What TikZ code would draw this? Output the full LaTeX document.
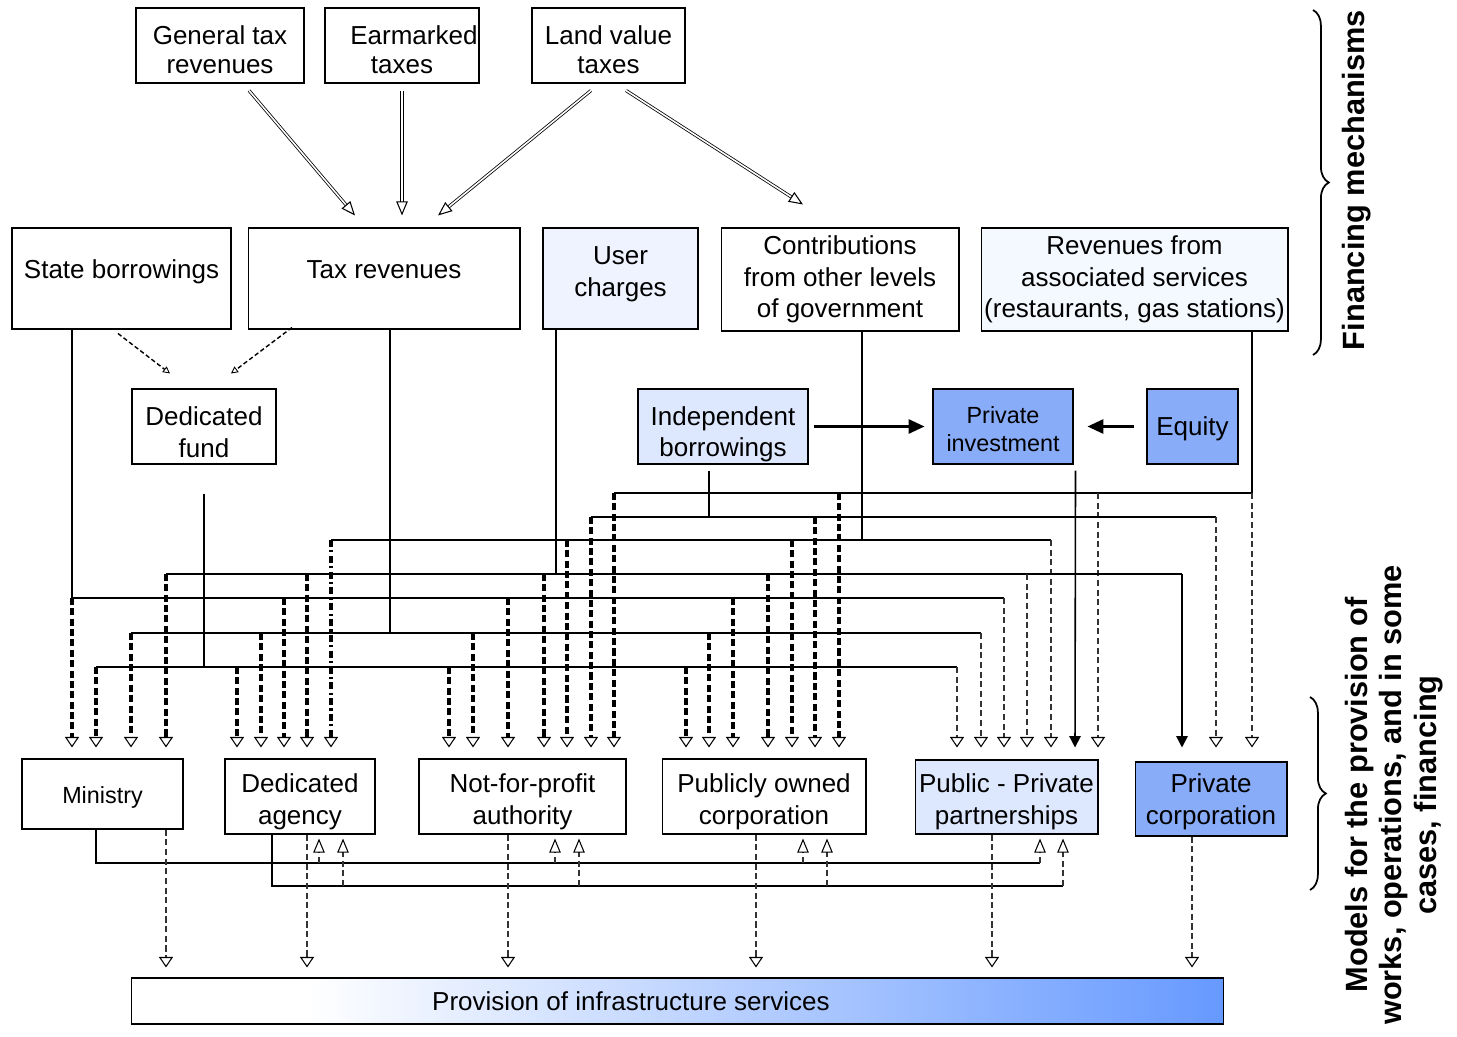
\documentclass[tikz,border=0pt]{standalone}
\usepackage{fontspec}
\setmainfont{Liberation Sans}
\usetikzlibrary{positioning,arrows.meta,decorations.pathreplacing}
\definecolor{usrfill}{RGB}{238,243,255}
\definecolor{revfill}{RGB}{244,248,255}
\definecolor{ibfill}{RGB}{221,232,255}
\definecolor{pifill}{RGB}{136,172,248}
\definecolor{provblue}{RGB}{102,153,255}
\pgfdeclarehorizontalshading{provshade}{100bp}{color(0bp)=(white); color(33bp)=(white); color(75bp)=(provblue); color(100bp)=(provblue)}
% strut that pushes a box text down / up
\newcommand{\dn}[1]{\rule{0pt}{#1}}
\newcommand{\upd}[1]{\rule[-#1]{0pt}{0pt}}
\tikzset{
  box/.style={draw,line width=0.6pt,align=center,inner sep=0pt,font=\fontsize{14.8}{18}\selectfont},
  topbox/.style={box,font=\fontsize{14.8}{16.5}\selectfont},
  smallbox/.style={box,font=\fontsize{13.3}{16}\selectfont},
  feed/.style={line width=0.6pt},
  fat/.style={line width=2pt,dash pattern=on 4pt off 1.9pt,
    -{Triangle[open,length=6pt,width=8pt,line width=0.6pt]}},
  fatdot/.style={fat,dash pattern=on 4pt off 1.9pt on 1.2pt off 1.9pt},
  slim/.style={draw=black!80,line width=0.8pt,dash pattern=on 3.5pt off 2pt,
    -{Triangle[open,length=6pt,width=8pt,line width=0.6pt,color=black]}},
  upslim/.style={slim,-{Triangle[open,length=8pt,width=6.5pt,line width=0.6pt,color=black]}},
  dbl/.style={double,double distance=0.9pt,line width=0.45pt,
    -{Triangle[open,length=8pt,width=6.5pt,line width=0.6pt]}},
  fundarr/.style={line width=0.8pt,dash pattern=on 2.5pt off 1.5pt,
    -{Triangle[open,length=4pt,width=4pt,line width=0.5pt]}},
  push/.style={line width=1.4pt,-{Triangle[length=9pt,width=8pt]}},
  pdrop/.style={line width=0.9pt,-{Triangle[length=6.5pt,width=6.5pt]}},
  brc/.style={decorate,decoration={brace,amplitude=9pt},line width=1pt},
  sidelbl/.style={font=\fontsize{17.5}{19.5}\selectfont\bfseries,rotate=90,align=center},
}
\begin{document}
\begin{tikzpicture}[x=0.02cm,y=-0.02cm]
  \useasboundingbox (0,0) rectangle (1457,1037);
  % ---- financing mechanisms ----
  \node[topbox,minimum width=3.36cm,minimum height=1.5cm] (gen) at (220,45.5) {\dn{15.3pt}General tax\\revenues};
  \node[topbox,minimum width=3.08cm,minimum height=1.5cm] (ear) at (402,45.5) {\dn{15.3pt}\hspace*{13.6pt}Earmarked\\taxes};
  \node[topbox,minimum width=3.06cm,minimum height=1.5cm] (land) at (608.5,45.5) {\dn{15.3pt}Land value\\taxes};
  \node[box,minimum width=4.38cm,minimum height=2.02cm,text height=11pt,text depth=11pt] (sb) at (121.5,278.5) {State borrowings};
  \node[box,minimum width=5.44cm,minimum height=2.02cm,text height=11pt,text depth=11pt] (tax) at (384,278.5) {Tax revenues};
  \node[box,fill=usrfill,minimum width=3.1cm,minimum height=2.02cm] (uc) at (620.5,278.5) {User\\charges\upd{7.7pt}};
  \node[box,minimum width=4.76cm,minimum height=2.06cm] (contr) at (840,279.5) {Contributions\\from other levels\\of government};
  \node[box,fill=revfill,minimum width=6.14cm,minimum height=2.06cm] (rev) at (1134.5,279.5) {Revenues from\\associated services\\(restaurants, gas stations)};
  \node[box,minimum width=2.88cm,minimum height=1.5cm] (fund) at (204,426.5) {\dn{17.5pt}Dedicated\\fund};
  \node[box,fill=ibfill,minimum width=3.4cm,minimum height=1.5cm] (ib) at (723,426.5) {\dn{19.7pt}Independent\\borrowings};
  \node[smallbox,fill=pifill,minimum width=2.8cm,minimum height=1.5cm] (pi) at (1003,426.5) {\dn{13pt}Private\\investment};
  \node[box,fill=pifill,minimum width=1.82cm,minimum height=1.5cm] (eq) at (1192.5,426.5) {\dn{13pt}Equity};
  % ---- provision models ----
  \node[smallbox,minimum width=3.22cm,minimum height=1.4cm] (min) at (102.5,794) {\dn{13pt}Ministry};
  \node[box,minimum width=3cm,minimum height=1.5cm] (agy) at (300,796.5) {\dn{16.4pt}Dedicated\\agency};
  \node[box,minimum width=4.14cm,minimum height=1.5cm] (nfp) at (522.5,796.5) {\dn{16.4pt}Not-for-profit\\authority};
  \node[box,minimum width=4.08cm,minimum height=1.5cm] (poc) at (764,796.5) {\dn{16.4pt}Publicly owned\\corporation};
  \node[box,fill=ibfill,minimum width=3.66cm,minimum height=1.48cm] (ppp) at (1006.5,797) {\dn{16.4pt}Public - Private\\partnerships};
  \node[box,fill=pifill,minimum width=3.04cm,minimum height=1.48cm] (pc) at (1211,799) {\dn{14.1pt}Private\\corporation};
  \node[box,shade,shading=provshade,minimum width=21.86cm,minimum height=0.92cm] (prov) at (677.5,1001) {Provision of infrastructure services\hspace*{53pt}};

  % taxes into tax revenues
  \draw[dbl] ([shift={(29,7)}]gen.south) -- ([shift={(-29,-12)}]tax.north);
  \draw[dbl] ([shift={(0,7)}]ear.south) -- ([shift={(18,-12)}]tax.north);
  \draw[dbl] ([shift={(-17.5,7)}]land.south) -- ([shift={(54,-12)}]tax.north);
  \draw[dbl] ([shift={(17.5,7)}]land.south) -- ([shift={(-37,-23)}]contr.north);
  \draw[fundarr] ([shift={(-3.5,4)}]sb.south) -- ([shift={(-34,-15)}]fund.north);
  \draw[fundarr] ([shift={(-92,-2)}]tax.south) -- ([shift={(27,-15)}]fund.north);
  \draw[push] ([xshift=0.1cm]ib.east) -- ([xshift=-0.16cm]pi.west);
  \draw[push] ([xshift=-0.24cm]eq.west) -- ([xshift=0.28cm]pi.east);

  \coordinate (tip) at ([yshift=0.22cm]min.north);
  % revenues from associated services
  \coordinate (bRev) at (1252,493);
  \draw[feed] (rev.south -| bRev) -- (bRev) -- (614,0 |- bRev);
  \foreach \x in {614,839} \draw[fat] (\x,0 |- bRev) -- (\x,0 |- tip);
  \foreach \x in {1098,1252} \draw[slim] (\x,0 |- bRev) -- (\x,0 |- tip);
  % independent borrowings
  \coordinate (bIb) at (709,517);
  \draw[feed] (ib.south -| bIb) ++(0,6) -- (bIb);
  \draw[feed] (591,0 |- bIb) -- (1216,0 |- bIb);
  \foreach \x in {591,815} \draw[fat] (\x,0 |- bIb) -- (\x,0 |- tip);
  \draw[slim] (1216,0 |- bIb) -- (1216,0 |- tip);
  % contributions from other levels
  \coordinate (bCon) at (862,540);
  \draw[feed] (contr.south -| bCon) -- (bCon);
  \draw[feed] (331,0 |- bCon) -- (1051,0 |- bCon);
  \draw[fatdot] (331,0 |- bCon) -- (331,0 |- tip);
  \foreach \x in {567,792} \draw[fat] (\x,0 |- bCon) -- (\x,0 |- tip);
  \draw[slim] (1051,0 |- bCon) -- (1051,0 |- tip);
  % user charges
  \coordinate (bUc) at (556,574);
  \draw[feed] (uc.south -| bUc) -- (bUc);
  \draw[feed] (166,0 |- bUc) -- (1182,0 |- bUc);
  \foreach \x in {166,307,544,768} \draw[fat] (\x,0 |- bUc) -- (\x,0 |- tip);
  \draw[slim] (1027,0 |- bUc) -- (1027,0 |- tip);
  \draw[pdrop] (1182,0 |- bUc) -- (1182,0 |- tip);
  % state borrowings
  \coordinate (bSb) at (72,598);
  \draw[feed] (sb.south -| bSb) -- (bSb) -- (1004,0 |- bSb);
  \foreach \x in {72,284,508,733} \draw[fat] (\x,0 |- bSb) -- (\x,0 |- tip);
  \draw[slim] (1004,0 |- bSb) -- (1004,0 |- tip);
  % tax revenues
  \coordinate (bTax) at (390,633);
  \draw[feed] (tax.south -| bTax) -- (bTax);
  \draw[feed] (131,0 |- bTax) -- (981,0 |- bTax);
  \foreach \x in {131,261,473,709} \draw[fat] (\x,0 |- bTax) -- (\x,0 |- tip);
  \draw[slim] (981,0 |- bTax) -- (981,0 |- tip);
  % dedicated fund
  \coordinate (bFund) at (204,667);
  \draw[feed] (fund.south -| bFund) ++(0,29) -- (bFund);
  \draw[feed] (96,0 |- bFund) -- (957,0 |- bFund);
  \foreach \x in {96,237,449,686} \draw[fat] (\x,0 |- bFund) -- (\x,0 |- tip);
  \draw[slim] (957,0 |- bFund) -- (957,0 |- tip);
  % private investment
  \draw[pdrop] (pi.south east) ++(2,6) -- (1075,0 |- tip);

  % links between the models
  \coordinate (rMin) at (96,863);
  \coordinate (rAgy) at (272,886);
  \coordinate (upt) at ([yshift=-0.08cm]agy.south);
  \draw[feed] (min.south -| rMin) -- (rMin) -- (1040,0 |- rMin);
  \draw[feed] (agy.south -| rAgy) -- (rAgy) -- (1063,0 |- rAgy);
  \foreach \x in {319,555,803,1040} \draw[upslim] (\x,0 |- rMin) -- (\x,0 |- upt);
  \foreach \x in {343,579,827,1063} \draw[upslim] (\x,0 |- rAgy) -- (\x,0 |- upt);
  % into provision
  \coordinate (ptip) at ([yshift=0.2cm]prov.north);
  \foreach \x/\n in {166/min,307/agy,508/nfp,756/poc,992/ppp,1192/pc}
    \draw[slim] (\n.south -| \x,0) -- (\x,0 |- ptip);

  % side labels
  \draw[brc] (1313,10) -- (1313,355);
  \node[sidelbl] (fin) at (1357,180) {Financing mechanisms};
  \draw[brc] (1310,697) -- (1310,890);
  \node[sidelbl] (mod) at (1394,795) {Models for the provision of\\works, operations, and in some\\cases, financing};
\end{tikzpicture}
\end{document}
